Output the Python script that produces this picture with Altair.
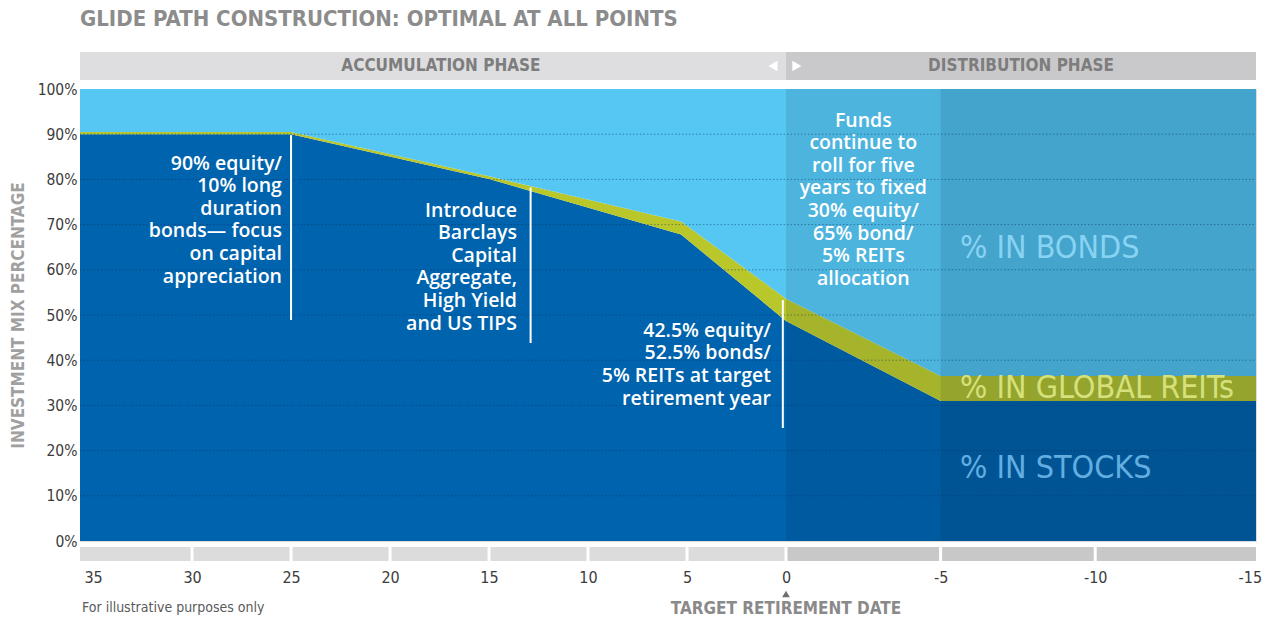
import altair as alt
import pandas as pd

# ---------------- data ----------------
years = [35.66, 25, 15, 5.3, 0, -5, -15.2]
stocks = [90, 90, 80.1, 67.8, 48.7, 31, 31]
reits = [0.5, 0.5, 0.6, 2.9, 4.9, 5.5, 5.5]

series_names = ["% IN STOCKS", "% IN GLOBAL REITs", "% IN BONDS"]
series_colors = ["#0063ad", "#b9c72b", "#56c7f2"]
series_label_colors = ["#63aee1", "#d6e07c", "#88d3f4"]
series_label_pct = [16.2, 33.8, 64.8]

x_ticks = [35, 30, 25, 20, 15, 10, 5, 0, -5, -10, -15]
y_ticks = [0, 10, 20, 30, 40, 50, 60, 70, 80, 90, 100]
grid_values = [10, 20, 30, 40, 50, 60, 70, 80, 90]

phases = ["ACCUMULATION PHASE", "DISTRIBUTION PHASE"]
phase_start = [35.66, 0]
phase_end = [0, -15.2]
phase_label_at = [17.43, -7.6]
phase_bar_colors = ["#dedee0", "#c9c9cb"]
axis_bar_colors = ["#dcdcdc", "#c8c8c8"]

shade_start = [0, -5]
shade_end = [-5, -15.2]
shade_opacity = [0.10, 0.20]

notes = [
    "90% equity/\n10% long\nduration\nbonds\u2014 focus\non capital\nappreciation",
    "Introduce\nBarclays\nCapital\nAggregate,\nHigh Yield\nand US TIPS",
    "42.5% equity/\n52.5% bonds/\n5% REITs at target\nretirement year",
    "Funds\ncontinue to\nroll for five\nyears to fixed\n30% equity/\n65% bond/\n5% REITs\nallocation",
]
note_x = [25.46, 13.59, 0.76, -2.5]
note_y = [85.5, 75.1, 48.5, 95.0]
note_align = ["right", "right", "right", "center"]

marker_x = [25, 12.9, 0.16]
marker_top = [89.8, 78.2, 53.3]
marker_bottom = [48.9, 43.8, 25.0]

# ---------------- tables ----------------
rows = []
for yr, s, r in zip(years, stocks, reits):
    rows.append({"year": yr, "series": series_names[0], "pct": s, "ord": 0})
    rows.append({"year": yr, "series": series_names[1], "pct": r, "ord": 1})
    rows.append({"year": yr, "series": series_names[2], "pct": 100 - s - r, "ord": 2})
df = pd.DataFrame(rows)

NARROW = "Liberation Sans Narrow, DejaVu Sans Condensed, Roboto Condensed, Arial Narrow, sans-serif"
BODY = "Open Sans, Roboto, Liberation Sans, sans-serif"

W, H = 1176, 452
XS = alt.Scale(domain=[35.66, 0, -15.2], range=[0, 706, 1176], nice=False, zero=False)
YS = alt.Scale(domain=[0, 100], nice=False, zero=True)

area = alt.Chart(df).mark_area(interpolate="linear").encode(
    x=alt.X("year:Q", scale=XS,
            axis=alt.Axis(values=x_ticks, labelExpr="'' + datum.value", domain=False, ticks=False,
                          grid=False, labelPadding=28, labelFontSize=16, labelColor="#3c3c3c",
                          labelFont=NARROW, labelFlush=False, title=None)),
    y=alt.Y("pct:Q", stack="zero", scale=YS,
            axis=alt.Axis(values=y_ticks, labelExpr="datum.value + '%'", domain=False, ticks=False,
                          grid=False, labelPadding=3, labelFontSize=15.5, labelColor="#3c3c3c",
                          labelFont=NARROW, title="INVESTMENT MIX PERCENTAGE", titleX=-62, titleY=226,
                          titleAngle=270, titleAlign="center", titleBaseline="middle",
                          titleFontSize=17, titleFont=NARROW, titleFontWeight="bold",
                          titleColor="#a0a0a0")),
    color=alt.Color("series:N", scale=alt.Scale(domain=series_names, range=series_colors), legend=None),
    order=alt.Order("ord:Q"),
)

shade_df = pd.DataFrame({"x1": shade_start, "x2": shade_end, "op": shade_opacity})
shade = alt.Chart(shade_df).mark_rect(color="#001830").encode(
    x=alt.X("x1:Q", scale=XS), x2="x2:Q",
    y=alt.value(0), y2=alt.value(H),
    opacity=alt.Opacity("op:Q", scale=None),
)

grid = alt.Chart(pd.DataFrame({"g": grid_values})).mark_rule(
    color="#00305a", strokeDash=[1.5, 2], strokeWidth=1, opacity=0.45
).encode(y=alt.Y("g:Q", scale=YS), x=alt.value(0), x2=alt.value(W))

markers_df = pd.DataFrame({"x": marker_x, "y1": marker_top, "y2": marker_bottom})
markers = alt.Chart(markers_df).mark_rule(color="white", strokeWidth=2).encode(
    x=alt.X("x:Q", scale=XS), y=alt.Y("y1:Q", scale=YS), y2="y2:Q"
)

notes_df = pd.DataFrame({"x": note_x, "y": note_y, "t": notes, "a": note_align})
note_layers = []
for al in ["right", "center"]:
    note_layers.append(
        alt.Chart(notes_df[notes_df.a == al]).mark_text(
            align=al, baseline="top", lineBreak="\n", lineHeight=22.6,
            font=BODY, fontSize=19.5, fontWeight=600, color="white"
        ).encode(x=alt.X("x:Q", scale=XS), y=alt.Y("y:Q", scale=YS), text="t:N")
    )

cat_df = pd.DataFrame({"name": series_names, "c": series_label_colors, "y": series_label_pct})
cats = alt.Chart(cat_df).mark_text(align="left", baseline="middle", font=NARROW, fontSize=32).encode(
    x=alt.value(880), y=alt.Y("y:Q", scale=YS), text="name:N",
    color=alt.Color("c:N", scale=None),
)

phase_df = pd.DataFrame({"p": phases, "s": phase_start, "e": phase_end, "lx": phase_label_at,
                         "c": phase_bar_colors, "ac": axis_bar_colors})
header = alt.Chart(phase_df).mark_rect().encode(
    x=alt.X("s:Q", scale=XS), x2="e:Q", y=alt.value(-37), y2=alt.value(-9),
    color=alt.Color("c:N", scale=None),
)
header_text = alt.Chart(phase_df).mark_text(
    font=NARROW, fontSize=17, fontWeight="bold", color="#7d7d7d", baseline="middle"
).encode(x=alt.X("lx:Q", scale=XS), y=alt.value(-23), text="p:N")

arrows = alt.Chart(pd.DataFrame({"x": [0.66, -0.35], "s": ["triangle-left", "triangle-right"]})).mark_point(
    filled=True, color="white", opacity=1, size=110
).encode(x=alt.X("x:Q", scale=XS), y=alt.value(-23), shape=alt.Shape("s:N", scale=None))

axis_bar = alt.Chart(phase_df).mark_rect().encode(
    x=alt.X("s:Q", scale=XS), x2="e:Q", y=alt.value(458), y2=alt.value(472),
    color=alt.Color("ac:N", scale=None),
)
seps = alt.Chart(pd.DataFrame({"x": x_ticks[1:-1]})).mark_rule(color="white", strokeWidth=3).encode(
    x=alt.X("x:Q", scale=XS), y=alt.value(456), y2=alt.value(474)
)

target_tri = alt.Chart(pd.DataFrame({"x": [0]})).mark_point(
    filled=True, color="#6e6e6e", opacity=1, size=60, shape="triangle-up"
).encode(x=alt.X("x:Q", scale=XS), y=alt.value(505))
target_text = alt.Chart(pd.DataFrame({"x": [0], "t": ["TARGET RETIREMENT DATE"]})).mark_text(
    font=NARROW, fontSize=17, fontWeight="bold", color="#8a8a8a", baseline="middle"
).encode(x=alt.X("x:Q", scale=XS), y=alt.value(520), text="t:N")

foot = alt.Chart(pd.DataFrame({"t": ["For illustrative purposes only"]})).mark_text(
    font=NARROW, fontSize=14, color="#5a5a5a", align="left", baseline="middle"
).encode(x=alt.value(2), y=alt.value(519), text="t:N")

title = alt.Chart(pd.DataFrame({"t": ["GLIDE PATH CONSTRUCTION: OPTIMAL AT ALL POINTS"]})).mark_text(
    font=NARROW, fontSize=22, fontWeight="bold", color="#8c8c8c", align="left", baseline="middle"
).encode(x=alt.value(0), y=alt.value(-70), text="t:N")

chart = alt.layer(
    area, shade, grid, markers, *note_layers, cats, header, header_text, arrows,
    axis_bar, seps, target_tri, target_text, foot, title
).properties(
    width=W, height=H,
    autosize=alt.AutoSizeParams(type="none"),
    padding={"left": 80, "top": 89, "right": 7, "bottom": 78},
).configure_view(stroke=None).configure(background="white")

chart.save("out.html", embed_options={"renderer": "svg", "actions": False})
